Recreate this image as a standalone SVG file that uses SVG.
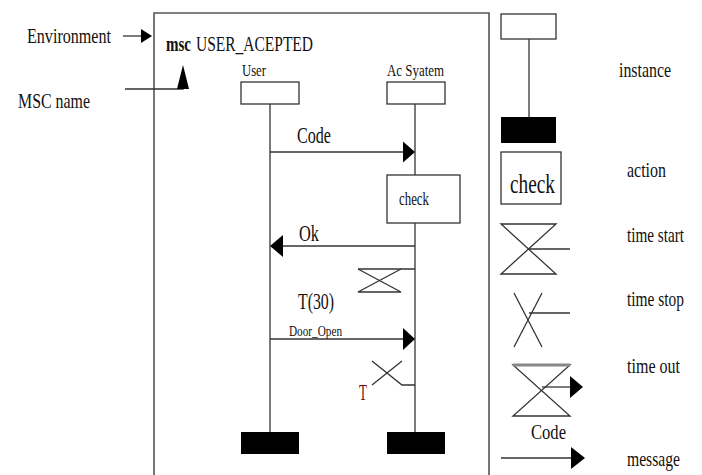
<svg xmlns="http://www.w3.org/2000/svg" width="702" height="475" viewBox="0 0 702 475">
<style>
text{font-family:"Liberation Serif","Times New Roman",serif;fill:#111}
.ln{stroke:#333;stroke-width:1.3;fill:none}
.fr{stroke:#555;stroke-width:1.6;fill:none}
.box{stroke:#333;stroke-width:1.3;fill:#fff}
.end{fill:#000}
.ah{fill:#000}
</style>
<rect width="702" height="475" fill="#fff"/>
<g id="frame">
<path class="fr" d="M154,476 V13 H489 V476"/>
</g>
<g id="environment-label">
<text x="27" y="43" font-size="21" textLength="84" lengthAdjust="spacingAndGlyphs">Environment</text>
<line class="ln" x1="123" y1="36" x2="143" y2="36"/>
<polygon class="ah" points="152,36 141,29 141,43"/>
</g>
<g id="msc-name-label">
<text x="18" y="108" font-size="21" textLength="72" lengthAdjust="spacingAndGlyphs">MSC name</text>
<polyline class="ln" points="125,89 183,89 183,76"/>
<polygon class="ah" points="183,65 177,89 189,89"/>
</g>
<g id="title">
<text x="166" y="51" font-size="21" font-weight="bold" textLength="25" lengthAdjust="spacingAndGlyphs">msc</text>
<text x="196" y="51" font-size="21" textLength="117" lengthAdjust="spacingAndGlyphs">USER_ACEPTED</text>
</g>
<g id="user">
<text x="242" y="76" font-size="16" textLength="24" lengthAdjust="spacingAndGlyphs">User</text>
<rect class="box" x="241" y="82" width="58" height="22"/>
<line class="ln" x1="270" y1="104" x2="270" y2="432"/>
<rect class="end" x="241" y="432" width="58" height="22"/>
</g>
<g id="ac-system">
<text x="387" y="76" font-size="16" textLength="57" lengthAdjust="spacingAndGlyphs">Ac  Syatem</text>
<rect class="box" x="387" y="82" width="58" height="22"/>
<line class="ln" x1="415" y1="104" x2="415" y2="432"/>
<rect class="end" x="387" y="432" width="58" height="22"/>
</g>
<g id="check-action">
<rect class="box" x="387" y="175" width="73" height="48"/>
<text x="399" y="205" font-size="18" textLength="30" lengthAdjust="spacingAndGlyphs">check</text>
</g>
<g id="timer-start">
<line class="ln" x1="358" y1="269" x2="415" y2="269"/>
<path class="ln" d="M358,269 L401,292 H358 L401,269"/>
</g>
<g id="timer-stop">
<path class="ln" d="M372,361 L402,385 H415 M402,361 L372,385"/>
<text x="359" y="400" font-size="23" textLength="8" lengthAdjust="spacingAndGlyphs" style="fill:#6b1010">T</text>
</g>
<g id="connectors">
<g id="msg-code">
<line class="ln" x1="270" y1="152" x2="404" y2="152"/>
<polygon class="ah" points="415,152 403,141.5 403,162.5"/>
<text x="297" y="143" font-size="23" textLength="34" lengthAdjust="spacingAndGlyphs">Code</text>
</g>
<g id="msg-ok">
<line class="ln" x1="415" y1="246" x2="282" y2="246"/>
<polygon class="ah" points="270,246 283,235 283,257"/>
<text x="299" y="241" font-size="24" textLength="20" lengthAdjust="spacingAndGlyphs">Ok</text>
</g>
<g id="msg-dooropen">
<text x="298" y="309" font-size="23" textLength="36" lengthAdjust="spacingAndGlyphs">T(30)</text>
<text x="289" y="336" font-size="15" textLength="53" lengthAdjust="spacingAndGlyphs">Door_Open</text>
<line class="ln" x1="270" y1="339" x2="404" y2="339"/>
<polygon class="ah" points="415,339 403,328 403,350"/>
</g>
</g>
<g id="legend-instance">
<rect class="box" x="501" y="14" width="55" height="25"/>
<line class="ln" x1="529" y1="39" x2="529" y2="117"/>
<rect class="end" x="501" y="117" width="55" height="26"/>
<text x="619" y="77" font-size="22" textLength="52" lengthAdjust="spacingAndGlyphs">instance</text>
</g>
<g id="legend-action">
<rect class="box" x="501" y="152" width="60" height="52"/>
<text x="510" y="193" font-size="28" textLength="45" lengthAdjust="spacingAndGlyphs">check</text>
<text x="627" y="177" font-size="22" textLength="39" lengthAdjust="spacingAndGlyphs">action</text>
</g>
<g id="legend-time-start">
<path class="ln" d="M501,224 H556 L501,274 H556 Z"/>
<line class="ln" x1="529" y1="249" x2="570" y2="249"/>
<text x="627" y="242" font-size="22" textLength="57" lengthAdjust="spacingAndGlyphs">time start</text>
</g>
<g id="legend-time-stop">
<path class="ln" d="M514,293 L542,347 M542,293 L514,347 M529,313 H570"/>
<text x="627" y="306" font-size="22" textLength="57" lengthAdjust="spacingAndGlyphs">time stop</text>
</g>
<g id="legend-time-out">
<path class="ln" d="M513,365 H570 L513,416 H570 Z"/>
<line x1="513" y1="365" x2="570" y2="365" stroke="#888" stroke-width="3"/>
<line class="ln" x1="542" y1="387" x2="572" y2="387"/>
<polygon class="ah" points="583,387 570,376 570,398"/>
<text x="627" y="373" font-size="22" textLength="53" lengthAdjust="spacingAndGlyphs">time out</text>
</g>
<g id="legend-message">
<text x="531" y="439" font-size="21" textLength="35" lengthAdjust="spacingAndGlyphs">Code</text>
<line class="ln" x1="501" y1="458" x2="573" y2="458"/>
<polygon class="ah" points="585,458 571,447 571,469"/>
<text x="627" y="466" font-size="22" textLength="53" lengthAdjust="spacingAndGlyphs">message</text>
</g>
</svg>
